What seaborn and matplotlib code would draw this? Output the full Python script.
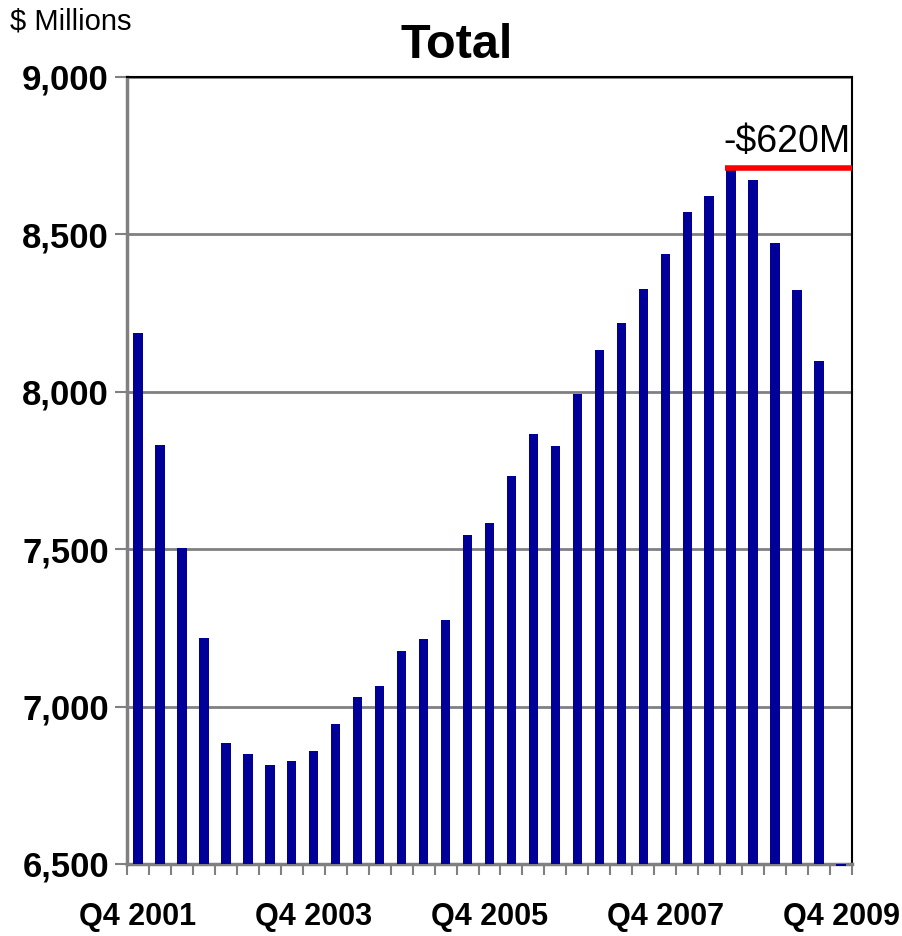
import matplotlib
matplotlib.use("Agg")
import matplotlib.pyplot as plt
import seaborn as sns
import pandas as pd

# quarterly totals, $ millions (Q4 2001 .. Q4 2009)
quarters = ["Q%d %d" % (q, y) for y in range(2001, 2010) for q in (1, 2, 3, 4)][3:36]
values = [8187, 7831, 7504, 7218, 6884, 6849, 6814, 6827, 6859, 6945,
          7030, 7065, 7177, 7215, 7275, 7545, 7583, 7733, 7866, 7828,
          7993, 8133, 8219, 8327, 8438, 8571, 8622, 8710, 8673, 8473,
          8323, 8098, 6494]
shown_labels = ["Q4 2001", "Q4 2003", "Q4 2005", "Q4 2007", "Q4 2009"]
base = 6500
peak_note = "-$620M"

sns.set_theme(style="white")
plt.rcParams['font.family'] = ['Liberation Sans Narrow', 'Liberation Sans', 'DejaVu Sans']
plt.rcParams['text.color'] = 'black'
plt.rcParams['xtick.color'] = 'black'
plt.rcParams['ytick.color'] = 'black'

df = pd.DataFrame({"quarter": quarters, "value": values})
df["height"] = df["value"] - base

fig = plt.figure(figsize=(9.02, 9.36), dpi=100)
ax = fig.add_axes([127 / 902, 1 - 864 / 936, 725 / 902, 787 / 936])

sns.barplot(data=df, x="quarter", y="height", color="#000099", saturation=1,
            width=0.43, bottom=base, ax=ax, clip_on=False, zorder=3,
            linewidth=0)

ax.set_xlim(-0.5, len(quarters) - 0.5)
ax.set_ylim(base, 9000)
yt = [6500, 7000, 7500, 8000, 8500, 9000]
ax.set_yticks(yt)
ax.set_yticklabels(["{:,}".format(v) for v in yt], fontsize=25, fontweight="bold")
ax.yaxis.grid(True, color="#808080", linewidth=2, zorder=1)
ax.set_axisbelow(True)

pos = [quarters.index(q) for q in shown_labels]
ax.set_xticks(pos)
ax.set_xticklabels(shown_labels, fontsize=22, fontweight="bold")
ax.set_xticks([i + 0.5 for i in range(-1, len(quarters))], minor=True)
ax.tick_params(axis="x", which="both", bottom=True)
ax.tick_params(axis="x", which="major", length=0, pad=27)
ax.tick_params(axis="x", which="minor", length=8, width=1.5, color="#808080", direction="out")
ax.tick_params(axis="y", left=True, length=9, width=1.5, color="#808080", direction="out", pad=4)
ax.set_xlabel("")
ax.set_ylabel("")

for side in ["left", "bottom"]:
    ax.spines[side].set_color("#808080")
    ax.spines[side].set_linewidth(2.5)
for side in ["top", "right"]:
    ax.spines[side].set_color("black")
    ax.spines[side].set_linewidth(1.5)

# decline from peak
peak = max(values)
ax.plot([26.7, 32.5], [peak, peak], color="red", linewidth=4, solid_capstyle="butt",
        clip_on=False, zorder=5)
ax.text(29.55, peak + 25, peak_note, ha="center", va="bottom", fontsize=27, color="black")

fig.text(457 / 902, 1 - 45 / 936, "Total", ha="center", va="center",
         fontsize=35, fontweight="bold", family=["Liberation Sans", "DejaVu Sans"])
fig.text(10 / 902, 1 - 22 / 936, "$ Millions", ha="left", va="center", fontsize=21)

fig.savefig("out.png", dpi=100)
